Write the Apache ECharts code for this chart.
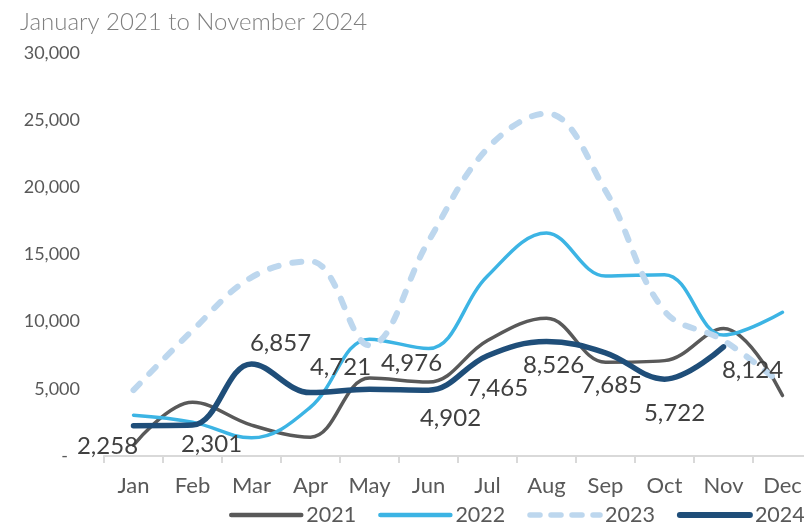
<!DOCTYPE html>
<html>
<head>
<meta charset="utf-8">
<script src="https://cdn.jsdelivr.net/npm/echarts@6/dist/echarts.min.js"></script>
<style>
html,body{margin:0;padding:0;background:#fff;overflow:hidden;}
#c{width:820px;height:523px;}
</style>
</head>
<body>
<div id="c"></div>
<script>
const titleText = 'January 2021 to November 2024';
const months = ['Jan','Feb','Mar','Apr','May','Jun','Jul','Aug','Sep','Oct','Nov','Dec'];
const seriesNames = ['2021','2022','2023','2024'];
const v2021 = [800, 4000, 2300, 1400, 5800, 5500, 8600, 10250, 6980, 7100, 9500, 4500];
const v2022 = [3040, 2520, 1350, 3640, 8700, 8000, 13400, 16600, 13400, 13500, 9000, 10700];
const v2023 = [4900, 9350, 13300, 14500, 8240, 16000, 22900, 25500, 19750, 10800, 8600, 5300];
const v2024 = [2258, 2301, 6857, 4721, 4976, 4902, 7465, 8526, 7685, 5722, 8124];
const yTicks = [0, 5000, 10000, 15000, 20000, 25000, 30000];

// label offsets for 2024 data labels (style only)
const labelOffsets = [[-26,21],[19,19],[29,-21],[30,-25],[42,-26],[22,28],[10,33],[7,24],[6,33],[10,34],[29,23]];

const chart = echarts.init(document.getElementById('c'), null, {renderer:'canvas'});
const FONT = 'Lato, "Noto Sans", sans-serif';

function lineSeries(name, data, color, width, extra) {
  return Object.assign({
    name: name,
    type: 'line',
    data: data,
    smooth: 0.38,
    symbol: 'none',
    lineStyle: {color: color, width: width, cap: 'round', join: 'round'},
    itemStyle: {color: color},
    emphasis: {disabled: true},
    animation: false
  }, extra || {});
}

const s2024 = v2024.map((v, i) => ({
  value: v,
  label: {offset: labelOffsets[i]}
}));

const hiddenSym = {color: 'rgba(0,0,0,0)', borderWidth: 0, opacity: 0};

const option = {
  animation: false,
  title: {
    text: titleText,
    left: 15,
    top: 5,
    textStyle: {fontFamily: FONT, fontSize: 24, fontWeight: 300, color: '#7f7f7f'}
  },
  legend: {
    top: 499,
    left: 224,
    width: 590,
    itemWidth: 70,
    itemHeight: 14,
    itemGap: 22,
    textStyle: {fontFamily: FONT, fontSize: 21.5, color: '#595959'},
    itemStyle: hiddenSym,
    data: [
      {name: seriesNames[0], itemStyle: hiddenSym, lineStyle: {width: 4.5, color: '#595959'}},
      {name: seriesNames[1], itemStyle: hiddenSym, lineStyle: {width: 4.5, color: '#3cb4e4'}},
      {name: seriesNames[2], itemStyle: hiddenSym, lineStyle: {width: 5.5, color: '#bdd7ee', type: [10, 11], cap: 'round'}},
      {name: seriesNames[3], itemStyle: hiddenSym, lineStyle: {width: 6, color: '#1f4e79'}}
    ]
  },
  grid: {left: 104, right: 8, top: 53, bottom: 67},
  xAxis: {
    type: 'category',
    data: months,
    boundaryGap: true,
    axisLine: {lineStyle: {color: '#d9d9d9', width: 2}},
    axisTick: {show: true, length: 7, lineStyle: {color: '#d9d9d9', width: 2}},
    axisLabel: {fontFamily: FONT, fontSize: 22, color: '#595959', margin: 19}
  },
  yAxis: {
    type: 'value',
    min: yTicks[0],
    max: yTicks[yTicks.length - 1],
    interval: 5000,
    axisLine: {show: false},
    axisTick: {show: false},
    splitLine: {show: false},
    axisLabel: {
      fontFamily: FONT, fontSize: 18, color: '#595959', margin: 24,
      formatter: function (v) { return v === 0 ? '{d|-}' : v.toLocaleString('en-US'); },
      rich: {d: {fontFamily: FONT, fontSize: 18, color: '#595959', padding: [0, 12, 0, 0]}}
    }
  },
  series: [
    lineSeries('2021', v2021, '#595959', 3.5),
    lineSeries('2022', v2022, '#3cb4e4', 3.5),
    lineSeries('2023', v2023, '#bdd7ee', 6, {lineStyle: {color: '#bdd7ee', width: 6, type: [9, 14], cap: 'round'}}),
    lineSeries('2024', s2024, '#1f4e79', 5.5, {
      symbol: 'circle', symbolSize: 2, showSymbol: true,
      label: {show: true, position: 'inside', fontFamily: FONT, fontSize: 24, color: '#404040',
        formatter: function (p) { return Number(p.value).toLocaleString('en-US'); }}
    })
  ]
};
chart.setOption(option);
</script>
</body>
</html>
